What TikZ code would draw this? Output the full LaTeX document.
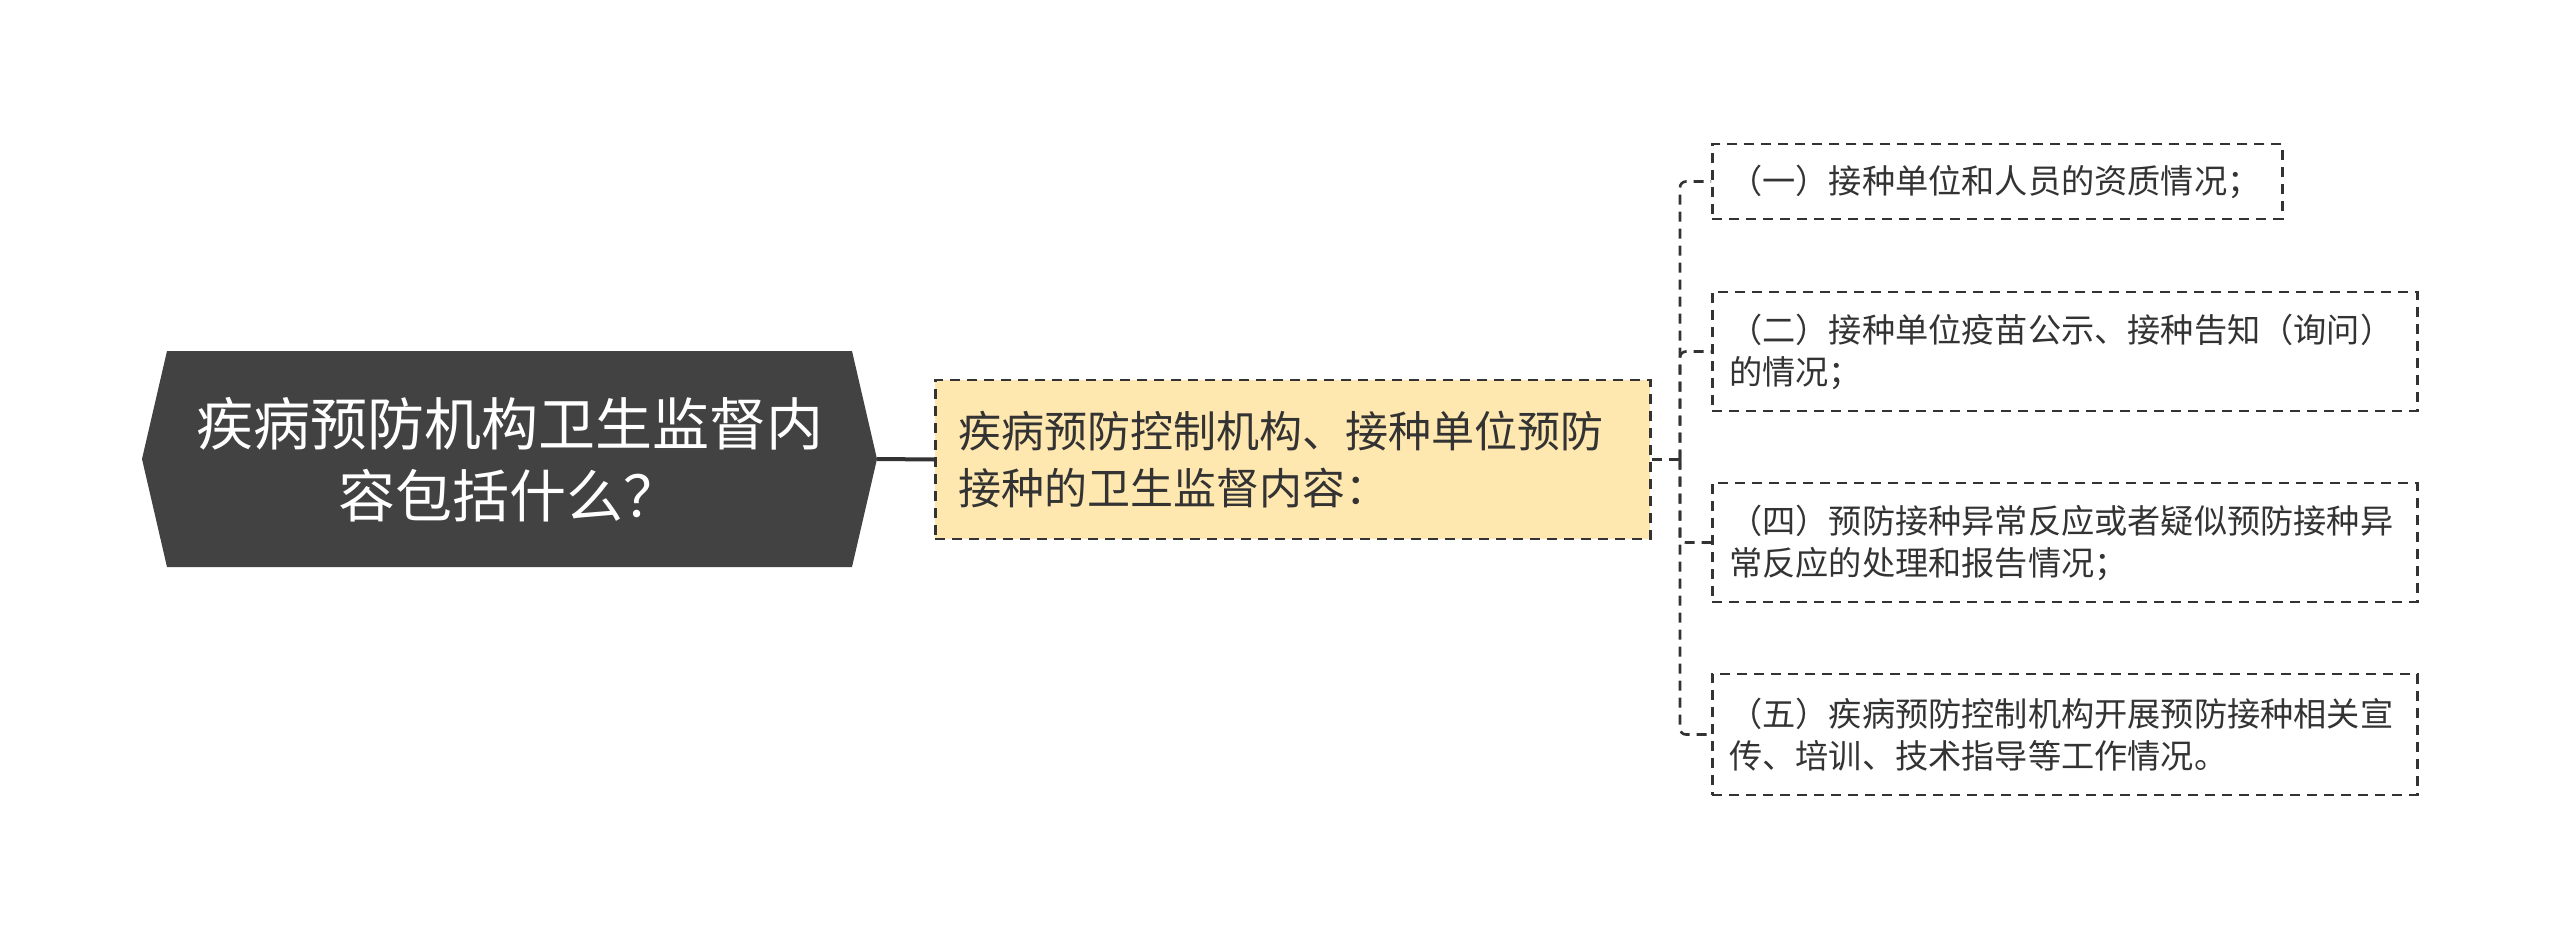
\documentclass[tikz,border=0pt]{standalone}
\usepackage{fontspec}
\newfontfamily\cjk{Noto Sans CJK SC}
\definecolor{rootfill}{HTML}{424242}
\definecolor{yelfill}{HTML}{FFE8B0}
\definecolor{ink}{HTML}{333333}
\begin{document}
\begin{tikzpicture}[x=1pt,y=-1pt,
  dashline/.style={draw=ink, line width=2.6pt, dash pattern=on 10pt off 7pt},
  dashbox/.style={dashline, inner xsep=17pt, inner ysep=0pt, anchor=west, align=left, text=ink},
  leaf/.style={dashbox, font=\cjk\fontsize{33.2}{42}\selectfont, text width=671pt, minimum height=119pt},
  mid/.style={dashbox, fill=yelfill, inner xsep=23pt, font=\cjk\fontsize{43}{57}\selectfont, text width=669pt, minimum height=159pt},
  conn/.style={dashline, rounded corners=6pt},
]
\useasboundingbox (0,0) rectangle (2560,939);
% root hexagon
\fill[rootfill] (142,459) -- (167,351) -- (852,351) -- (877,459) -- (852,567) -- (167,567) -- cycle;
\coordinate (rootE) at (877,459);
\node[font=\cjk\fontsize{57}{72}\selectfont, text=white, align=center] (root) at (509.5,460) {疾病预防机构卫生监督内\\容包括什么？};
% middle node
\node[mid] (yel) at (934,459.5) {疾病预防控制机构、接种单位预防\\接种的卫生监督内容：};
% leaves
\node[leaf, text width=536pt, minimum height=75pt] (b1) at (1711,181.5) {（一）接种单位和人员的资质情况；};
\node[leaf] (b2) at (1711,351.5) {（二）接种单位疫苗公示、接种告知（询问）\\的情况；};
\node[leaf] (b4) at (1711,542.5) {（四）预防接种异常反应或者疑似预防接种异\\常反应的处理和报告情况；};
\node[leaf, minimum height=121pt] (b5) at (1711,734.5) {（五）疾病预防控制机构开展预防接种相关宣\\传、培训、技术指导等工作情况。};
% connectors
\draw[ink, line width=4pt] (rootE) -- (yel.west);
\coordinate (hub) at (1680,459.5);
\draw[dashline] (yel.east) -- (hub);
\draw[conn] (hub) |- (b1.west);
\draw[conn] (hub) |- (b2.west);
\draw[conn] (hub) |- (b4.west);
\draw[conn] (hub) |- (b5.west);
\end{tikzpicture}
\end{document}
